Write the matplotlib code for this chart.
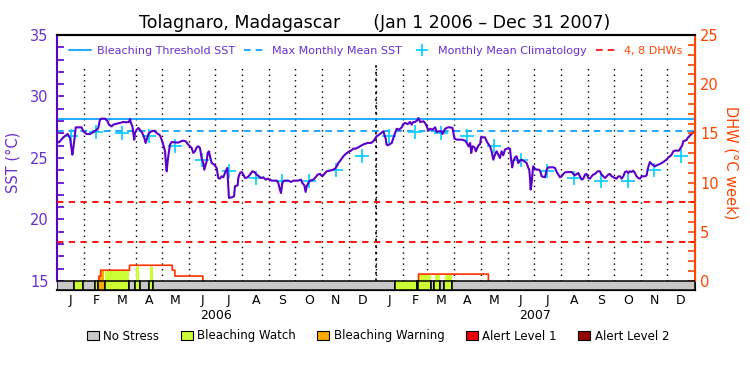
import matplotlib
matplotlib.use('Agg')
import matplotlib.pyplot as plt
import matplotlib.transforms as mtransforms
from matplotlib.lines import Line2D
from matplotlib.patches import Patch
from matplotlib.ticker import MultipleLocator
import numpy as np
import pandas as pd

# time axis: days since Jan 1 2006
start = pd.Timestamp('2006-01-01')
n_days = 730

# daily SST
sst_day = [0, 2.3, 4.6, 7.3, 9.2, 12.2, 14.9, 17.6, 18.7, 20.6, 21.4, 28.2, 30.2, 34.0, 37.8, 41.6,
           45.4, 47.3, 49.2, 51.1, 55.0, 58.0, 59.5, 62.6, 64.5, 68.3, 72.1, 75.9, 79.8, 82.4, 83.6,
           84.7, 86.3, 88.5, 89.3, 91.2, 93.1, 95.0, 97.7, 100.0, 101.5, 103.8, 105.3, 108.4, 111.4,
           114.1, 117.9, 119.8, 121.7, 123.7, 124.8, 125.6, 126.7, 128.2, 129.4, 131.3, 135.1, 138.9,
           142.0, 144.6, 147.3, 150.4, 152.3, 154.2, 156.1, 158.0, 160.0, 161.9, 163.7, 165.6, 167.5,
           168.7, 170.2, 171.4, 172.5, 174.0, 175.2, 177.1, 180.1, 182.8, 184.7, 186.6, 188.5, 190.4,
           193.1, 195.0, 196.2, 196.9, 200.0, 202.7, 203.8, 206.9, 207.6, 209.5, 211.5, 213.4, 215.3,
           218.3, 221.0, 223.7, 226.0, 228.6, 231.3, 233.6, 236.2, 238.9, 241.2, 243.9,
           245.8, 251.5, 253.4, 255.3, 256.5, 258.0, 260.3, 264.9, 268.0, 270.6, 276.3, 279.4, 280.9,
           283.2, 284.7, 285.9, 287.8, 289.7, 293.5, 295.4, 298.5, 301.2, 303.8, 306.1, 308.8, 312.7,
           315.3, 318.4, 320.3, 322.2, 325.2, 327.9, 330.6, 333.6, 336.7, 339.3, 342.0, 345.1, 348.9,
           352.0, 355.8, 359.6, 362.3, 364.2, 366.1, 369.9, 373.7, 376.4, 377.5, 378.7, 381.3, 383.3,
           385.2, 387.1, 389.0, 391.7, 394.7, 396.6, 398.5, 401.6, 404.3, 406.2, 408.1, 410.0, 412.0,
           413.9, 415.8, 419.6, 421.5, 423.4, 425.3, 427.2, 429.9, 433.0, 434.9, 436.8, 439.9, 441.4,
           444.5, 447.5, 450.2, 452.9, 454.0, 455.2, 457.9, 463.6, 467.4, 469.3, 471.2, 473.1, 474.3,
           475.8, 478.1, 479.6, 481.2, 482.7, 484.6,
           485.5, 490.1, 492.0, 493.9, 495.8, 497.7, 499.6, 501.5, 503.4, 505.3, 507.2, 509.1, 511.0,
           512.9, 514.8, 518.7, 519.8, 521.3, 522.5, 524.4, 526.3, 528.2, 530.1, 532.0, 535.1, 537.8,
           539.7, 540.8, 541.6, 542.4, 543.5, 544.7, 545.4, 547.3, 549.2, 551.9, 553.4, 555.0, 558.8,
           560.7, 562.6, 568.3, 570.2, 572.2, 574.1, 576.0, 577.9, 579.8, 581.7, 585.5, 589.3, 591.2,
           593.1, 596.9, 598.8, 600.8, 602.7, 604.6, 606.5, 608.4, 610.3, 612.2, 614.1, 616.0, 619.1,
           621.7, 623.6, 625.6, 627.5, 629.4, 631.3, 633.2, 635.1, 638.9, 640.8, 642.8, 644.7, 646.6,
           648.5, 650.4, 652.3, 654.2, 656.1, 658.0, 659.9, 661.8, 663.7, 665.6, 667.6, 669.5, 673.3,
           675.2, 676.3, 677.9, 679.0, 680.9, 682.8, 684.7, 686.6, 688.5, 690.4, 692.3, 694.3, 696.2,
           698.1, 700.0, 701.9, 703.8, 705.7, 707.6, 712.2, 714.5, 716.0, 717.2, 719.1, 721.0, 722.1,
           724.0, 725.9, 727.5, 728.6, 729.8]
sst_val = [26.36, 26.27, 26.46, 26.68, 26.79, 26.95, 26.63, 25.27, 25.81, 26.90, 27.49, 27.49, 27.17,
           26.95, 26.95, 27.11, 27.30, 27.44, 28.12, 28.20, 28.20, 27.98, 27.71, 27.57, 27.71, 27.79,
           27.85, 27.93, 27.90, 27.93, 28.17, 27.85, 27.57, 26.49, 27.03, 27.30, 27.44, 27.30, 27.03,
           26.63, 26.22, 26.76, 27.03, 27.17, 27.22, 27.03, 26.84, 26.49, 26.08, 25.54, 24.46, 23.92,
           24.73, 25.54, 26.08, 26.30, 26.27, 26.25, 26.36, 26.41, 26.36, 26.08, 25.95, 25.81, 25.41,
           25.54, 25.87, 25.95, 25.81, 25.00, 24.59, 24.05, 24.46, 24.73, 25.41, 25.54, 25.14, 24.59,
           24.46, 24.19, 23.37, 23.32, 23.51, 23.43, 23.92, 24.19, 22.56, 21.75, 21.80, 21.88, 22.70,
           22.78, 23.37, 23.78, 23.86, 23.65, 23.37, 23.43, 23.65, 23.92, 23.86, 23.65, 23.51, 23.37,
           23.43, 23.24, 23.32, 23.24,
           23.16, 23.16, 22.97, 22.43, 22.15, 22.97, 23.16, 23.16, 23.05, 23.16, 23.16, 23.24, 22.97,
           22.78, 22.24, 22.70, 22.97, 23.16, 23.24, 23.37, 23.65, 23.70, 23.51, 23.70, 23.92, 23.97,
           24.02, 24.13, 24.32, 24.59, 24.86, 25.14, 25.33, 25.49, 25.60, 25.76, 25.76, 25.87, 26.03,
           26.14, 26.22, 26.22, 26.36, 26.57, 26.76, 26.95, 27.17, 26.57, 26.08, 26.03, 26.14, 26.22,
           26.63, 27.03, 27.38, 27.30, 27.49, 27.76, 27.85, 27.76, 27.93, 27.71, 27.93, 27.93, 28.03,
           28.25, 27.93, 27.98, 27.85, 27.57, 27.22, 27.38, 27.30, 27.49, 27.11, 27.17, 27.17, 26.95,
           27.38, 27.49, 27.49, 27.44, 27.03, 26.57, 26.49, 26.49, 26.41, 26.22, 25.95, 26.22, 25.41,
           25.95, 25.87, 25.54, 25.81, 26.03, 26.14,
           26.68, 26.68, 26.36, 26.14, 25.95, 25.54, 24.86, 25.27, 25.54, 25.27, 25.00, 25.54, 25.22,
           25.68, 25.76, 25.76, 25.00, 24.24, 24.73, 25.05, 25.14, 24.59, 24.78, 24.86, 24.73, 24.59,
           24.19, 24.05, 23.37, 22.43, 22.97, 23.92, 24.32, 24.13, 24.05, 24.05, 23.92, 23.51, 23.43,
           24.05, 24.24, 24.24, 24.19, 23.86, 23.65, 23.43, 23.51, 23.70, 23.83, 23.86, 23.86, 23.70,
           23.59, 23.78, 23.51, 23.24, 23.32, 23.65, 23.70, 23.37, 23.32, 23.51, 23.65, 23.70, 23.92,
           23.92, 23.65, 23.51, 23.37, 23.51, 23.65, 23.70, 23.51, 23.37, 23.32, 23.51, 23.51, 23.32,
           23.51, 23.86, 23.92, 23.78, 23.92, 23.86, 23.97, 23.78, 23.51, 23.37, 23.32, 23.51, 23.51,
           23.59, 24.05, 24.46, 24.67, 24.51, 24.40, 24.32, 24.40, 24.46, 24.51, 24.59, 24.67, 24.78,
           24.86, 25.05, 25.14, 25.27, 25.54, 25.60, 25.60, 25.87, 26.03, 26.36, 26.41, 26.46, 26.63,
           26.76, 26.90, 27.03, 27.09, 27.11]

month_letters = ['J', 'F', 'M', 'A', 'M', 'J', 'J', 'A', 'S', 'O', 'N', 'D']
clim = [26.8, 27.15, 27.0, 26.75, 26.0, 24.85, 23.95, 23.4, 23.15, 23.1, 24.05, 25.15]
mmm = 27.2
threshold = 28.2
dhw_lines = [4, 8]

# bleaching alert status: 0 no stress, 1 watch, 2 warning, 3 alert 1, 4 alert 2
stress_start = [0, 19.8, 30.2, 43.5, 47.3, 54.9, 82.4, 89.3, 95.0, 105.7, 110.3,
                387.0, 412.6, 413.7, 428.2, 432.1, 438.6, 443.5, 452.7]
stress_level = [0, 1, 0, 1, 2, 1, 0, 1, 0, 1, 0, 1, 2, 1, 0, 1, 0, 1, 0]
dhw_day = [0, 47.3, 49.2, 82.4, 132.0, 134.3, 166.4, 413.7, 493.9]
dhw_val = [0, 0.5, 1.1, 1.6, 1.1, 0.5, 0, 0.7, 0]

stress_names = ['No Stress', 'Bleaching Watch', 'Bleaching Warning', 'Alert Level 1', 'Alert Level 2']
stress_colors = ['#c8c8c8', '#ccff33', '#ffaa00', '#ee0000', '#990000']

purple = '#5a00c8'
axis_purple = '#6a2ed0'
orange = '#ff4400'
blue = '#0099ff'
cyan = '#00ccff'

months = pd.date_range('2006-01-01', '2008-01-01', freq='MS')
month_pos = np.array((months - start).days, dtype=float)
month_mid = (month_pos[:-1] + month_pos[1:]) / 2

fig = plt.figure(figsize=(7.5, 3.75), dpi=100)
ax = fig.add_axes([0.076, 0.2267, 0.85, 0.68])
ax2 = ax.twinx()

sst_lo = 15 - 9 / 12.3
dhw_lo = -9 / 9.84
ax.set_ylim(sst_lo, 35)
ax2.set_ylim(dhw_lo, 25)
ax.set_xlim(0, n_days)

# month dividers
ax.vlines(month_pos[1:-1], 15, 32.56, colors='k', linestyles=(0, (1, 3)), lw=1)
ax.vlines([365], 15, 32.56, colors='k', linestyles=(0, (1.5, 2.5)), lw=1.2)

ax.axhline(threshold, color=blue, lw=1.2)
ax.axhline(mmm, color=blue, lw=1.2, ls=(0, (4, 3)))
ax.plot(month_mid, clim * 2, ls='none', marker='+', ms=10, mew=1.2, color=cyan)
ax.plot(sst_day, sst_val, color=purple, lw=1.5)

for d in dhw_lines:
    ax2.axhline(d, color='#ff0000', lw=1.3, ls=(0, (3.5, 3)))

# DHW area coloured by alert status
days = np.arange(0, n_days + 1)
dhw_d = np.array(dhw_val)[np.searchsorted(dhw_day, days, side='right') - 1]
lvl_d = np.array(stress_level)[np.searchsorted(stress_start, days, side='right') - 1]
for k in range(1, 5):
    ax2.fill_between(days, 0, dhw_d, where=lvl_d == k, step='post', color=stress_colors[k], lw=0)
quiet = (dhw_d == 0) & (np.roll(dhw_d, 1) == 0) & (np.roll(dhw_d, -1) == 0)
ax2.step(days, np.ma.masked_where(quiet, dhw_d), where='post', color='#ff3300', lw=1.2)

stress_end = stress_start[1:] + [n_days]
widths = [e - s for s, e in zip(stress_start, stress_end)]
ax2.bar(stress_start, -dhw_lo, width=widths, bottom=dhw_lo, align='edge',
        color=[stress_colors[l] for l in stress_level], edgecolor='black', lw=1.1, zorder=5)

# axes styling
for a in (ax, ax2):
    a.spines['top'].set_linewidth(1.5)
    a.spines['bottom'].set_linewidth(1.5)
ax.spines['left'].set_color(purple)
ax.spines['left'].set_linewidth(1.5)
ax.spines['left'].set_bounds(15, 35)
ax2.spines['right'].set_color(orange)
ax2.spines['right'].set_linewidth(1.5)
ax2.spines['right'].set_bounds(0, 25)
ax2.spines['left'].set_visible(False)

ax.yaxis.set_major_locator(MultipleLocator(5))
ax.yaxis.set_minor_locator(MultipleLocator(1))
ax.tick_params(axis='y', which='both', direction='in', length=5, width=1.2,
               colors=purple, labelcolor=axis_purple, labelsize=10.5, pad=6)
ax2.yaxis.set_major_locator(MultipleLocator(5))
ax2.yaxis.set_minor_locator(MultipleLocator(1))
ax2.tick_params(axis='y', which='both', direction='in', length=5, width=1.2,
                colors=orange, labelsize=10.5, pad=4)
ax.set_ylabel('SST (°C)', color=axis_purple, fontsize=10.5, labelpad=7)
ax2.set_ylabel('DHW (°C week)', color=orange, fontsize=10.5, rotation=270, labelpad=14)

ax.set_xticks(month_mid)
ax.set_xticklabels(month_letters * 2, fontsize=9)
ax.tick_params(axis='x', length=0, pad=3)
trans = mtransforms.blended_transform_factory(ax.transData, ax.transAxes)
for i, yr in enumerate(['2006', '2007']):
    ax.text(182.5 + 365 * i, -0.1, yr, transform=trans, ha='center', va='center', fontsize=9)

fig.text(0.5, 0.94, 'Tolagnaro, Madagascar      (Jan 1 2006 \u2013 Dec 31 2007)',
         ha='center', va='center', fontsize=12.5)

handles = [Line2D([], [], color=blue, lw=1.2),
           Line2D([], [], color=blue, lw=1.2, ls=(0, (4, 3))),
           Line2D([], [], color=cyan, ls='none', marker='+', ms=9, mew=1.2),
           Line2D([], [], color='#ff0000', lw=1.2, ls=(0, (4, 3)))]
labels = ['Bleaching Threshold SST', 'Max Monthly Mean SST', 'Monthly Mean Climatology', '4, 8 DHWs']
ax2.legend(handles, labels, ncol=4, loc='center left', bbox_to_anchor=(0.012, 0.937),
           frameon=False, fontsize=8, handlelength=2, handletextpad=0.5, columnspacing=0.8,
           labelcolor=[axis_purple, axis_purple, axis_purple, orange], borderaxespad=0)

patches = [Patch(facecolor=c, edgecolor='black', lw=0.8) for c in stress_colors]
fig.legend(patches, stress_names, ncol=5, loc='center', bbox_to_anchor=(0.504, 0.104),
           frameon=False, fontsize=8.5, handlelength=1, handleheight=0.9,
           handletextpad=0.4, columnspacing=1.8)

fig.savefig('out.png', dpi=100)
